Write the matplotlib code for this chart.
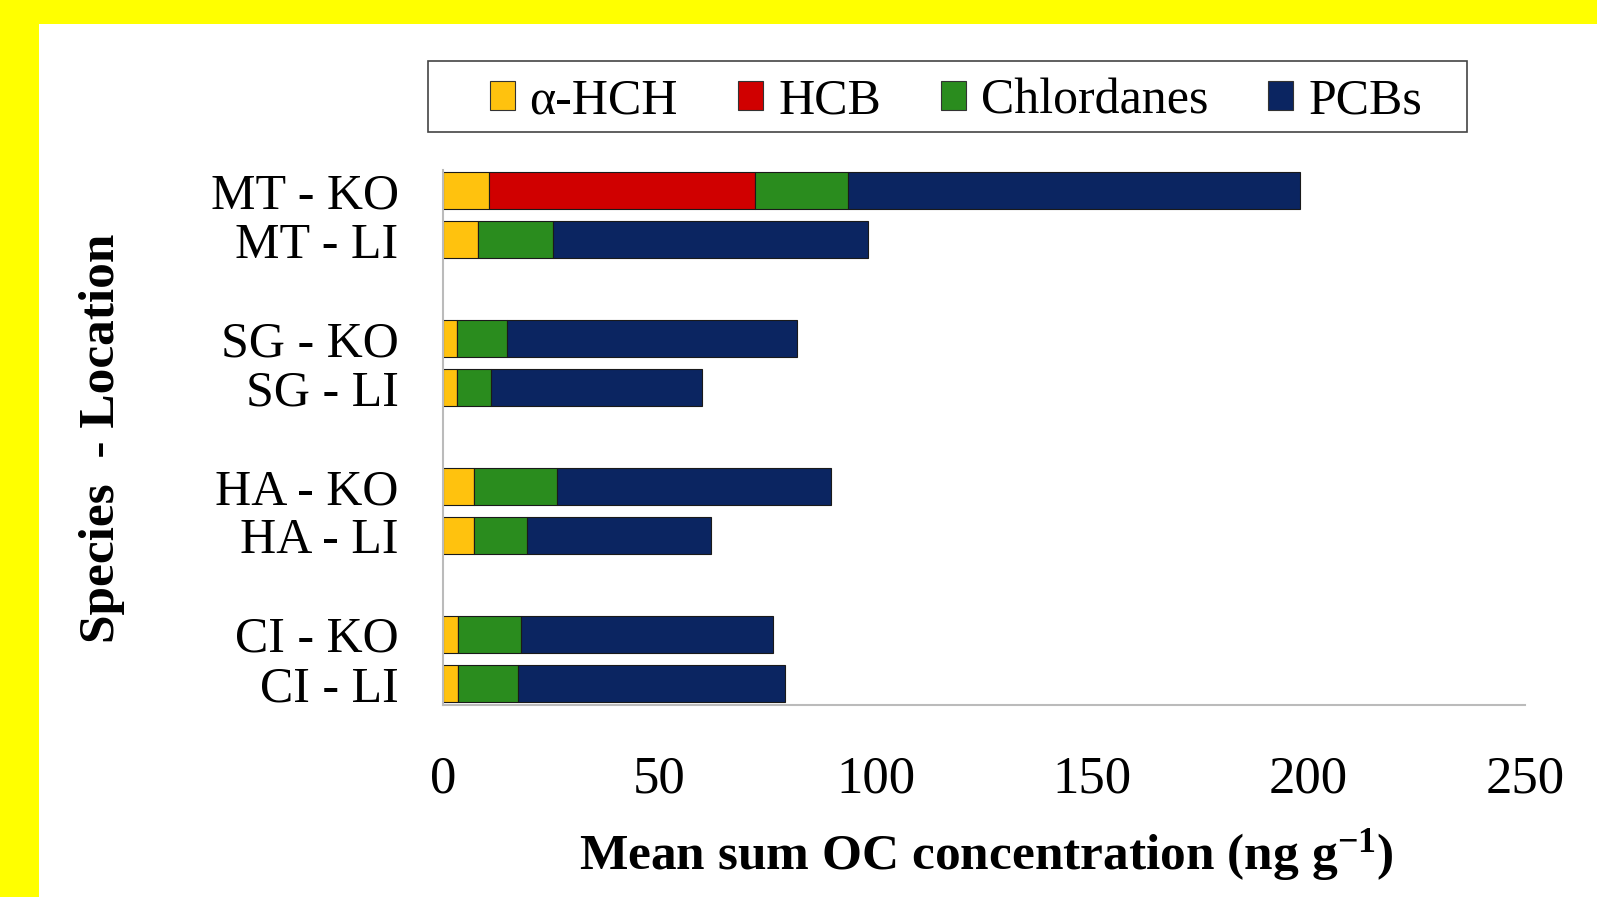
import numpy as np
import matplotlib
matplotlib.use('Agg')
import matplotlib.pyplot as plt
from matplotlib.patches import Rectangle

# data (ng/g)
labels = ['MT - KO', 'MT - LI', 'SG - KO', 'SG - LI', 'HA - KO', 'HA - LI', 'CI - KO', 'CI - LI']
slots = [0, 1, 3, 4, 6, 7, 9, 10]
hch = [10.6, 8.2, 3.3, 3.3, 7.1, 7.1, 3.5, 3.5]
hcb = [61.5, 0, 0, 0, 0, 0, 0, 0]
chlordanes = [21.5, 17.2, 11.5, 7.8, 19.3, 12.4, 14.6, 13.9]
pcbs = [104.5, 72.8, 67.1, 48.7, 63.3, 42.4, 58.2, 61.7]

series = [
    ('α-HCH', hch, '#FFC20E'),
    ('HCB', hcb, '#D00000'),
    ('Chlordanes', chlordanes, '#2A8C1E'),
    ('PCBs', pcbs, '#0B2561'),
]

plt.rcParams['font.family'] = ['Liberation Serif', 'DejaVu Serif']
plt.rcParams['mathtext.fontset'] = 'custom'
plt.rcParams['mathtext.rm'] = 'Liberation Serif'
plt.rcParams['mathtext.bf'] = 'Liberation Serif:bold'

fig = plt.figure(figsize=(15.97, 8.97), dpi=100)
fig.patch.set_facecolor('#FFFF00')
fig.patches.append(Rectangle((39 / 1597, 0), 1, 1 - 24.5 / 897, transform=fig.transFigure,
                             facecolor='white', edgecolor='none', zorder=-5))

ax = fig.add_axes([443 / 1597, 1 - 705 / 897, (1525 - 443) / 1597, (705 - 170) / 897])
ax.set_facecolor('none')

left = np.zeros(len(labels))
handles = []
for name, vals, col in series:
    vals = np.array(vals, dtype=float)
    ax.barh(slots, vals, left=left, height=0.75, color=col, edgecolor='#1a1a1a', linewidth=0.8)
    handles.append(Rectangle((0, 0), 1, 1, facecolor=col, edgecolor='#333333', linewidth=0.8))
    left += vals

ax.set_xlim(0, 250)
ax.set_ylim(10.44, -0.42)
ax.set_xticks([0, 50, 100, 150, 200, 250])
ax.set_yticks(slots)
ax.set_yticklabels(labels)
ax.tick_params(axis='y', length=0, pad=32, labelsize=36)
ax.tick_params(axis='x', length=0, pad=36, labelsize=38)
for s in ['top', 'right']:
    ax.spines[s].set_visible(False)
for s in ['left', 'bottom']:
    ax.spines[s].set_color('#BBBBBB')
    ax.spines[s].set_linewidth(1.5)

fig.text(986 / 1597, 1 - 855 / 897, r'Mean sum OC concentration (ng g$\mathbf{^{-1}}$)',
         ha='center', va='center', fontsize=37, fontweight='bold')
fig.text(102 / 1597, 1 - 438 / 897, 'Species  - Location', rotation=90,
         ha='center', va='center', fontsize=37, fontweight='bold')

# legend frame drawn separately (wider side margins than matplotlib's padding)
fig.patches.append(Rectangle((428 / 1597, 1 - 132 / 897), (1467 - 428) / 1597, 71 / 897,
                             transform=fig.transFigure, facecolor='white',
                             edgecolor='#444444', linewidth=1.2, zorder=1))
leg = fig.legend(handles, [s[0] for s in series], loc='center',
                 bbox_to_anchor=(0.5985, 1 - 101 / 897), ncol=4, fontsize=36,
                 frameon=False, handlelength=0.5, handleheight=0.5, handletextpad=0.3,
                 columnspacing=1.2, borderpad=0.3)
leg.set_zorder(2)

fig.savefig('out.png', dpi=100, facecolor=fig.get_facecolor())
